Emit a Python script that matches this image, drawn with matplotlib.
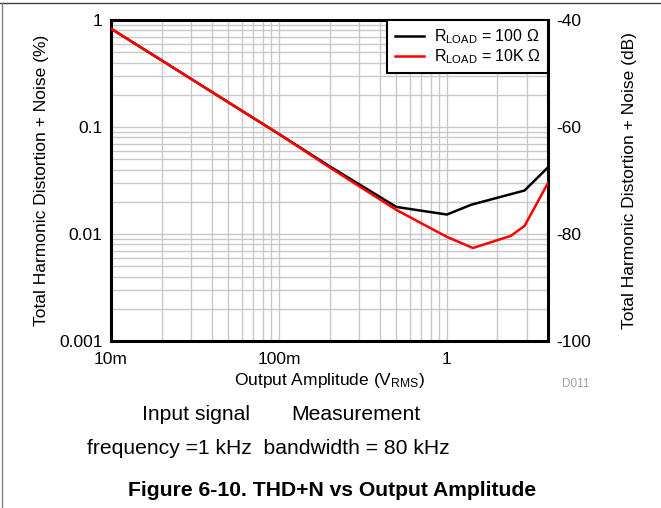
import matplotlib
matplotlib.use("Agg")
import matplotlib.pyplot as plt
from matplotlib.ticker import FixedLocator, LogLocator, NullFormatter, NullLocator
import numpy as np

plt.rcParams['font.family'] = ['Liberation Sans', 'DejaVu Sans']
plt.rcParams['mathtext.fontset'] = 'custom'
plt.rcParams['mathtext.rm'] = 'Liberation Sans'
plt.rcParams['mathtext.it'] = 'Liberation Sans:italic'
plt.rcParams['mathtext.bf'] = 'Liberation Sans:bold'

# Data (Output amplitude in Vrms, THD+N in %)
x_100 = [0.01, 0.02, 0.05, 0.1, 0.2, 0.5, 1.0, 1.4, 2.9, 4.0]
thd_100 = [0.83, 0.42, 0.17, 0.086, 0.043, 0.0179, 0.0152, 0.0188, 0.0255, 0.042]
x_10k = [0.01, 0.02, 0.05, 0.1, 0.2, 0.5, 1.0, 1.43, 2.4, 2.9, 4.0]
thd_10k = [0.83, 0.42, 0.17, 0.086, 0.042, 0.0168, 0.0094, 0.0074, 0.0096, 0.0119, 0.030]

label_100 = r'R$_{\mathrm{LOAD}}$ = 100 Ω'
label_10k = r'R$_{\mathrm{LOAD}}$ = 10K Ω'

xticks = [0.01, 0.1, 1]
xticklabels = ['10m', '100m', '1']
yticks = [0.001, 0.01, 0.1, 1]
yticklabels = ['0.001', '0.01', '0.1', '1']
dbticks = [-100, -80, -60, -40]
dbticklabels = ['-100', '-80', '-60', '-40']

W, H = 661, 508
fig = plt.figure(figsize=(W / 100, H / 100), dpi=100)
ax = fig.add_axes([111 / W, 1 - 341 / H, (548 - 111) / W, (341 - 20) / H])

ax.plot(x_100, thd_100, color='black', lw=1.8, label=label_100, zorder=3)
ax.plot(x_10k, thd_10k, color='#ff0000', lw=1.8, label=label_10k, zorder=3)

ax.set_xscale('log')
ax.set_yscale('log')
ax.set_xlim(0.01, 4.0)
ax.set_ylim(0.001, 1)

ax.xaxis.set_major_locator(FixedLocator(xticks))
ax.set_xticklabels(xticklabels)
ax.xaxis.set_minor_locator(LogLocator(base=10, subs=np.arange(2, 10)))
ax.xaxis.set_minor_formatter(NullFormatter())
ax.yaxis.set_major_locator(FixedLocator(yticks))
ax.set_yticklabels(yticklabels)
ax.yaxis.set_minor_locator(LogLocator(base=10, subs=np.arange(2, 10)))
ax.yaxis.set_minor_formatter(NullFormatter())

ax.grid(True, which='both', color='#c8c8c8', lw=1.0, zorder=0)
ax.tick_params(which='both', length=0, labelsize=12.5, pad=6)
ax.tick_params(axis='x', pad=8)
for s in ax.spines.values():
    s.set_linewidth(2.2)
    s.set_color('black')

ax.set_xlabel(r'Output Amplitude (V$_{\mathrm{RMS}}$)', fontsize=12.5, labelpad=3)
ax.set_ylabel('Total Harmonic Distortion + Noise (%)', fontsize=12.5, labelpad=7)

ax2 = ax.twinx()
ax2.set_ylim(-100, -40)
ax2.yaxis.set_major_locator(FixedLocator(dbticks))
ax2.set_yticklabels(dbticklabels)
ax2.yaxis.set_minor_locator(NullLocator())
ax2.tick_params(length=0, labelsize=12.5, pad=6)
ax2.set_ylabel('Total Harmonic Distortion + Noise (dB)', fontsize=12.5, labelpad=22)
for s in ax2.spines.values():
    s.set_visible(False)

leg = ax.legend(loc='upper right', fontsize=11.5, frameon=True, fancybox=False,
                borderaxespad=0, handlelength=1.85, handletextpad=0.6,
                borderpad=0.45, labelspacing=0.1)
leg.get_frame().set_edgecolor('black')
leg.get_frame().set_linewidth(1.5)
leg.get_frame().set_alpha(1)
leg.set_zorder(5)

fig.text(576 / W, 1 - 384 / H, 'D011', fontsize=8.5, color='#a0a0a0', ha='center', va='center')
fig.text(196 / W, 1 - 415 / H, 'Input signal', fontsize=15.2, ha='center', va='center')
fig.text(356 / W, 1 - 415 / H, 'Measurement', fontsize=15.2, ha='center', va='center')
fig.text(268 / W, 1 - 448 / H, 'frequency =1 kHz  bandwidth = 80 kHz', fontsize=15.2, ha='center', va='center')
fig.text(332 / W, 1 - 490 / H, 'Figure 6-10. THD+N vs Output Amplitude', fontsize=15.2,
         fontweight='bold', ha='center', va='center')

# page border lines
fig.add_artist(plt.Line2D([0, 1], [1 - 3 / H, 1 - 3 / H], transform=fig.transFigure, color='#404040', lw=1))
fig.add_artist(plt.Line2D([1.5 / W, 1.5 / W], [0, 1 - 3 / H], transform=fig.transFigure, color='#808080', lw=1))

fig.savefig('out.png', dpi=100)
